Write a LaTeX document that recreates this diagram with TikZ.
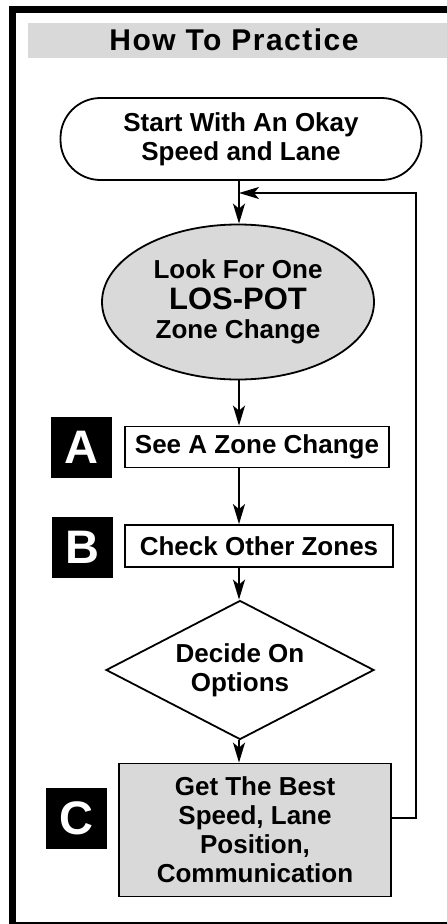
\documentclass[tikz,border=0pt]{standalone}
\usepackage{fontspec}
\setmainfont{Liberation Sans}
\usetikzlibrary{arrows.meta,shapes.geometric,positioning}

\definecolor{panelgray}{RGB}{217,217,217}

\begin{document}
\begin{tikzpicture}[x=1pt, y=-1pt, >={Stealth[length=20pt,width=12pt,inset=5pt]},
  every node/.style={font=\bfseries\fontsize{26}{29}\selectfont, align=center},
  outline/.style={draw, line width=1.8pt},
  startbox/.style={outline, rectangle, rounded corners=40pt, minimum width=361pt, minimum height=82pt, inner sep=0pt},
  oval/.style={outline, ellipse, fill=panelgray, minimum width=272pt, minimum height=155pt, inner sep=0pt},
  stepbox/.style={outline, rectangle, inner sep=0pt},
  decision/.style={outline, diamond, aspect=1.93, minimum width=268pt, minimum height=139pt, inner sep=0pt},
  tag/.style={fill=black, text=white, minimum size=61pt, inner sep=0pt, font=\bfseries\fontsize{47}{47}\selectfont},
  link/.style={line width=1.8pt}]

\useasboundingbox (0,0) rectangle (447,924);

% frame and title bar
\fill[panelgray] (28,23) rectangle (447,58);
\node (title) at (234,40) {\fontsize{30}{31}\selectfont\addfontfeature{LetterSpace=5}How To Practice};
\draw[line width=7pt] (12.5,924) -- (12.5,9) -- (447,9);
\draw[line width=2pt] (12.5,923) -- (447,923);

% flow
\node [startbox] (start) at (241,139) {\fontsize{26}{27}\selectfont Start With An Okay\\Speed and Lane};
\node [oval] (look) at (238,302) {\fontsize{26}{33}\selectfont Look For One\\[2pt]{\fontsize{31}{33}\selectfont LOS-POT}\\Zone Change};
\node [stepbox, minimum width=264pt, minimum height=41pt] (see) at (257,447) {See A Zone Change};
\node [stepbox, minimum width=268pt, minimum height=42pt] (check) at (259,546) {Check Other Zones};
\node [decision] (decide) at (240,670) {\fontsize{26}{30}\selectfont Decide On\\Options};
\node [stepbox, fill=panelgray, minimum width=272pt, minimum height=133pt] (best) at (255,830) {Get The Best\\Speed, Lane\\Position,\\Communication};

\foreach \t/\x/\y in {A/81/447, B/82/547, C/76/818}
  \node [tag] (tag-\t) at (\x,\y) {\t};

\coordinate (col) at (239,0);
\foreach \a/\b in {start/look, look/see, see/check, check/decide, decide/best}
  \draw [link, ->] (col |- \a.south) -- (col |- \b.north);

% back to the top
\coordinate (turn) at (416,193);
\draw [link, ->] ([yshift=12pt]best.east) -| (turn) -- (col |- turn);

\end{tikzpicture}
\end{document}
